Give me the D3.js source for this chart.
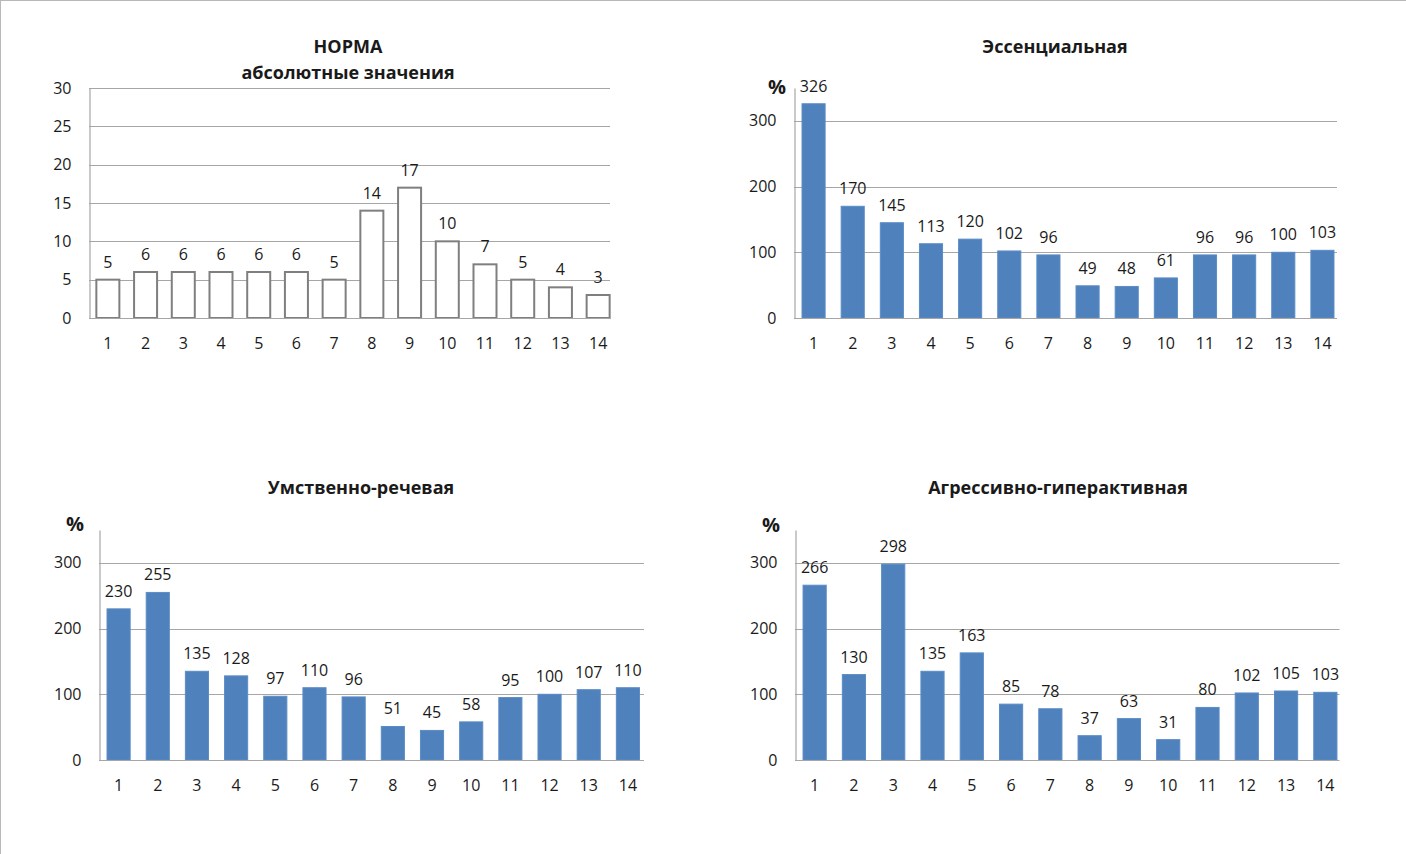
<!DOCTYPE html>
<html>
<head>
<meta charset="utf-8">
<script src="https://cdn.jsdelivr.net/npm/d3@7"></script>
<style>
  html, body { margin: 0; padding: 0; background: #fff; }
  svg { display: block; }
  text { font-family: "Open Sans", sans-serif; fill: #1a1a1a; }
</style>
</head>
<body>
<svg id="chart" width="1406" height="854"></svg>
<script>
// ---- data ----
const categories = ["1","2","3","4","5","6","7","8","9","10","11","12","13","14"];
const normaValues = [5, 6, 6, 6, 6, 6, 5, 14, 17, 10, 7, 5, 4, 3];
const essentialValues = [326, 170, 145, 113, 120, 102, 96, 49, 48, 61, 96, 96, 100, 103];
const mentalSpeechValues = [230, 255, 135, 128, 97, 110, 96, 51, 45, 58, 95, 100, 107, 110];
const aggressiveValues = [266, 130, 298, 135, 163, 85, 78, 37, 63, 31, 80, 102, 105, 103];
const normaTicks = [0, 5, 10, 15, 20, 25, 30];
const percentTicks = [0, 100, 200, 300];
const titles = ["НОРМА", "абсолютные значения", "Эссенциальная", "Умственно-речевая", "Агрессивно-гиперактивная"];

const svg = d3.select("#chart");

// outer frame (top and left edges)
svg.append("line").attr("x1", 0).attr("x2", 1406).attr("y1", 0.5).attr("y2", 0.5).attr("stroke", "#b8b8b8");
svg.append("line").attr("x1", 0.5).attr("x2", 0.5).attr("y1", 0).attr("y2", 854).attr("stroke", "#b8b8b8");

function drawChart(opt) {
  const g = svg.append("g");
  const x = d3.scaleBand().domain(categories).range([opt.left, opt.bandRight])
    .paddingInner(opt.pad).paddingOuter(opt.pad / 2);
  const y = d3.scaleLinear().domain([0, opt.max]).range([opt.bottom, opt.top]);

  // gridlines
  g.append("g").selectAll("line").data(opt.grid).join("line")
    .attr("x1", opt.left).attr("x2", opt.right)
    .attr("y1", d => Math.round(y(d)) + 0.5).attr("y2", d => Math.round(y(d)) + 0.5)
    .attr("stroke", "#a6a6a6").attr("stroke-width", 1.2);

  // y axis
  const ya = g.append("g").attr("transform", `translate(${opt.left + 0.5},0)`)
    .call(d3.axisLeft(y).tickValues(opt.ticks).tickSize(0).tickPadding(18));
  ya.select(".domain").attr("stroke", "#a6a6a6").attr("stroke-width", 1.2);
  ya.selectAll("text").style("font-size", "16px").style("font-family", "Open Sans").attr("fill", "#1a1a1a");

  // bars
  g.append("g").selectAll("rect").data(opt.values).join("rect")
    .attr("x", (d, i) => x(categories[i]))
    .attr("width", x.bandwidth())
    .attr("y", d => y(d))
    .attr("height", d => y(0) - y(d))
    .attr("fill", opt.hollow ? "#fff" : "#4f81bd")
    .attr("stroke", opt.hollow ? "#7f7f7f" : "#5b8cc6")
    .attr("stroke-width", opt.hollow ? 2 : 1);

  // x axis line (plot width) and category labels
  g.append("line").attr("x1", opt.left).attr("x2", opt.right)
    .attr("y1", opt.bottom + 0.5).attr("y2", opt.bottom + 0.5)
    .attr("stroke", "#a6a6a6").attr("stroke-width", 1.2);
  const xa = g.append("g").attr("transform", `translate(0,${opt.bottom + 0.5})`)
    .call(d3.axisBottom(x).tickSize(0).tickPadding(19));
  xa.select(".domain").remove();
  xa.selectAll("text").style("font-size", "16px").style("font-family", "Open Sans").attr("fill", "#1a1a1a");

  // value labels
  g.append("g").selectAll("text").data(opt.values).join("text")
    .attr("x", (d, i) => x(categories[i]) + x.bandwidth() / 2)
    .attr("y", d => y(d) - 12)
    .attr("text-anchor", "middle")
    .style("font-size", "16px")
    .text(d => d);

  // titles
  opt.titleLines.forEach((t, i) => {
    g.append("text").attr("x", opt.titleX).attr("y", opt.titleY[i])
      .attr("text-anchor", "middle").style("font-size", "18px").style("font-weight", "bold")
      .text(t);
  });

  if (opt.pctX != null) {
    g.append("text").attr("x", opt.pctX).attr("y", opt.pctY)
      .attr("text-anchor", "middle").style("font-size", "20px").style("font-weight", "bold")
      .text("%");
  }
}

drawChart({
  values: normaValues, ticks: normaTicks, grid: [5, 10, 15, 20, 25, 30], max: 30,
  left: 89, right: 610, bandRight: 617, top: 88, bottom: 318, pad: 0.39, hollow: true,
  titleLines: [titles[0], titles[1]], titleX: 348, titleY: [53, 79]
});
drawChart({
  values: essentialValues, ticks: percentTicks, grid: [100, 200, 300], max: 350,
  left: 794, right: 1337, bandRight: 1342, top: 88, bottom: 318, pad: 0.41, hollow: false,
  titleLines: [titles[2]], titleX: 1055, titleY: [53], pctX: 777, pctY: 94
});
drawChart({
  values: mentalSpeechValues, ticks: percentTicks, grid: [100, 200, 300], max: 350,
  left: 99, right: 644, bandRight: 647.5, top: 530, bottom: 760, pad: 0.41, hollow: false,
  titleLines: [titles[3]], titleX: 361, titleY: [494], pctX: 75, pctY: 531
});
drawChart({
  values: aggressiveValues, ticks: percentTicks, grid: [100, 200, 300], max: 350,
  left: 795, right: 1339.5, bandRight: 1345, top: 530, bottom: 760, pad: 0.41, hollow: false,
  titleLines: [titles[4]], titleX: 1058, titleY: [494], pctX: 771, pctY: 532
});
</script>
</body>
</html>
